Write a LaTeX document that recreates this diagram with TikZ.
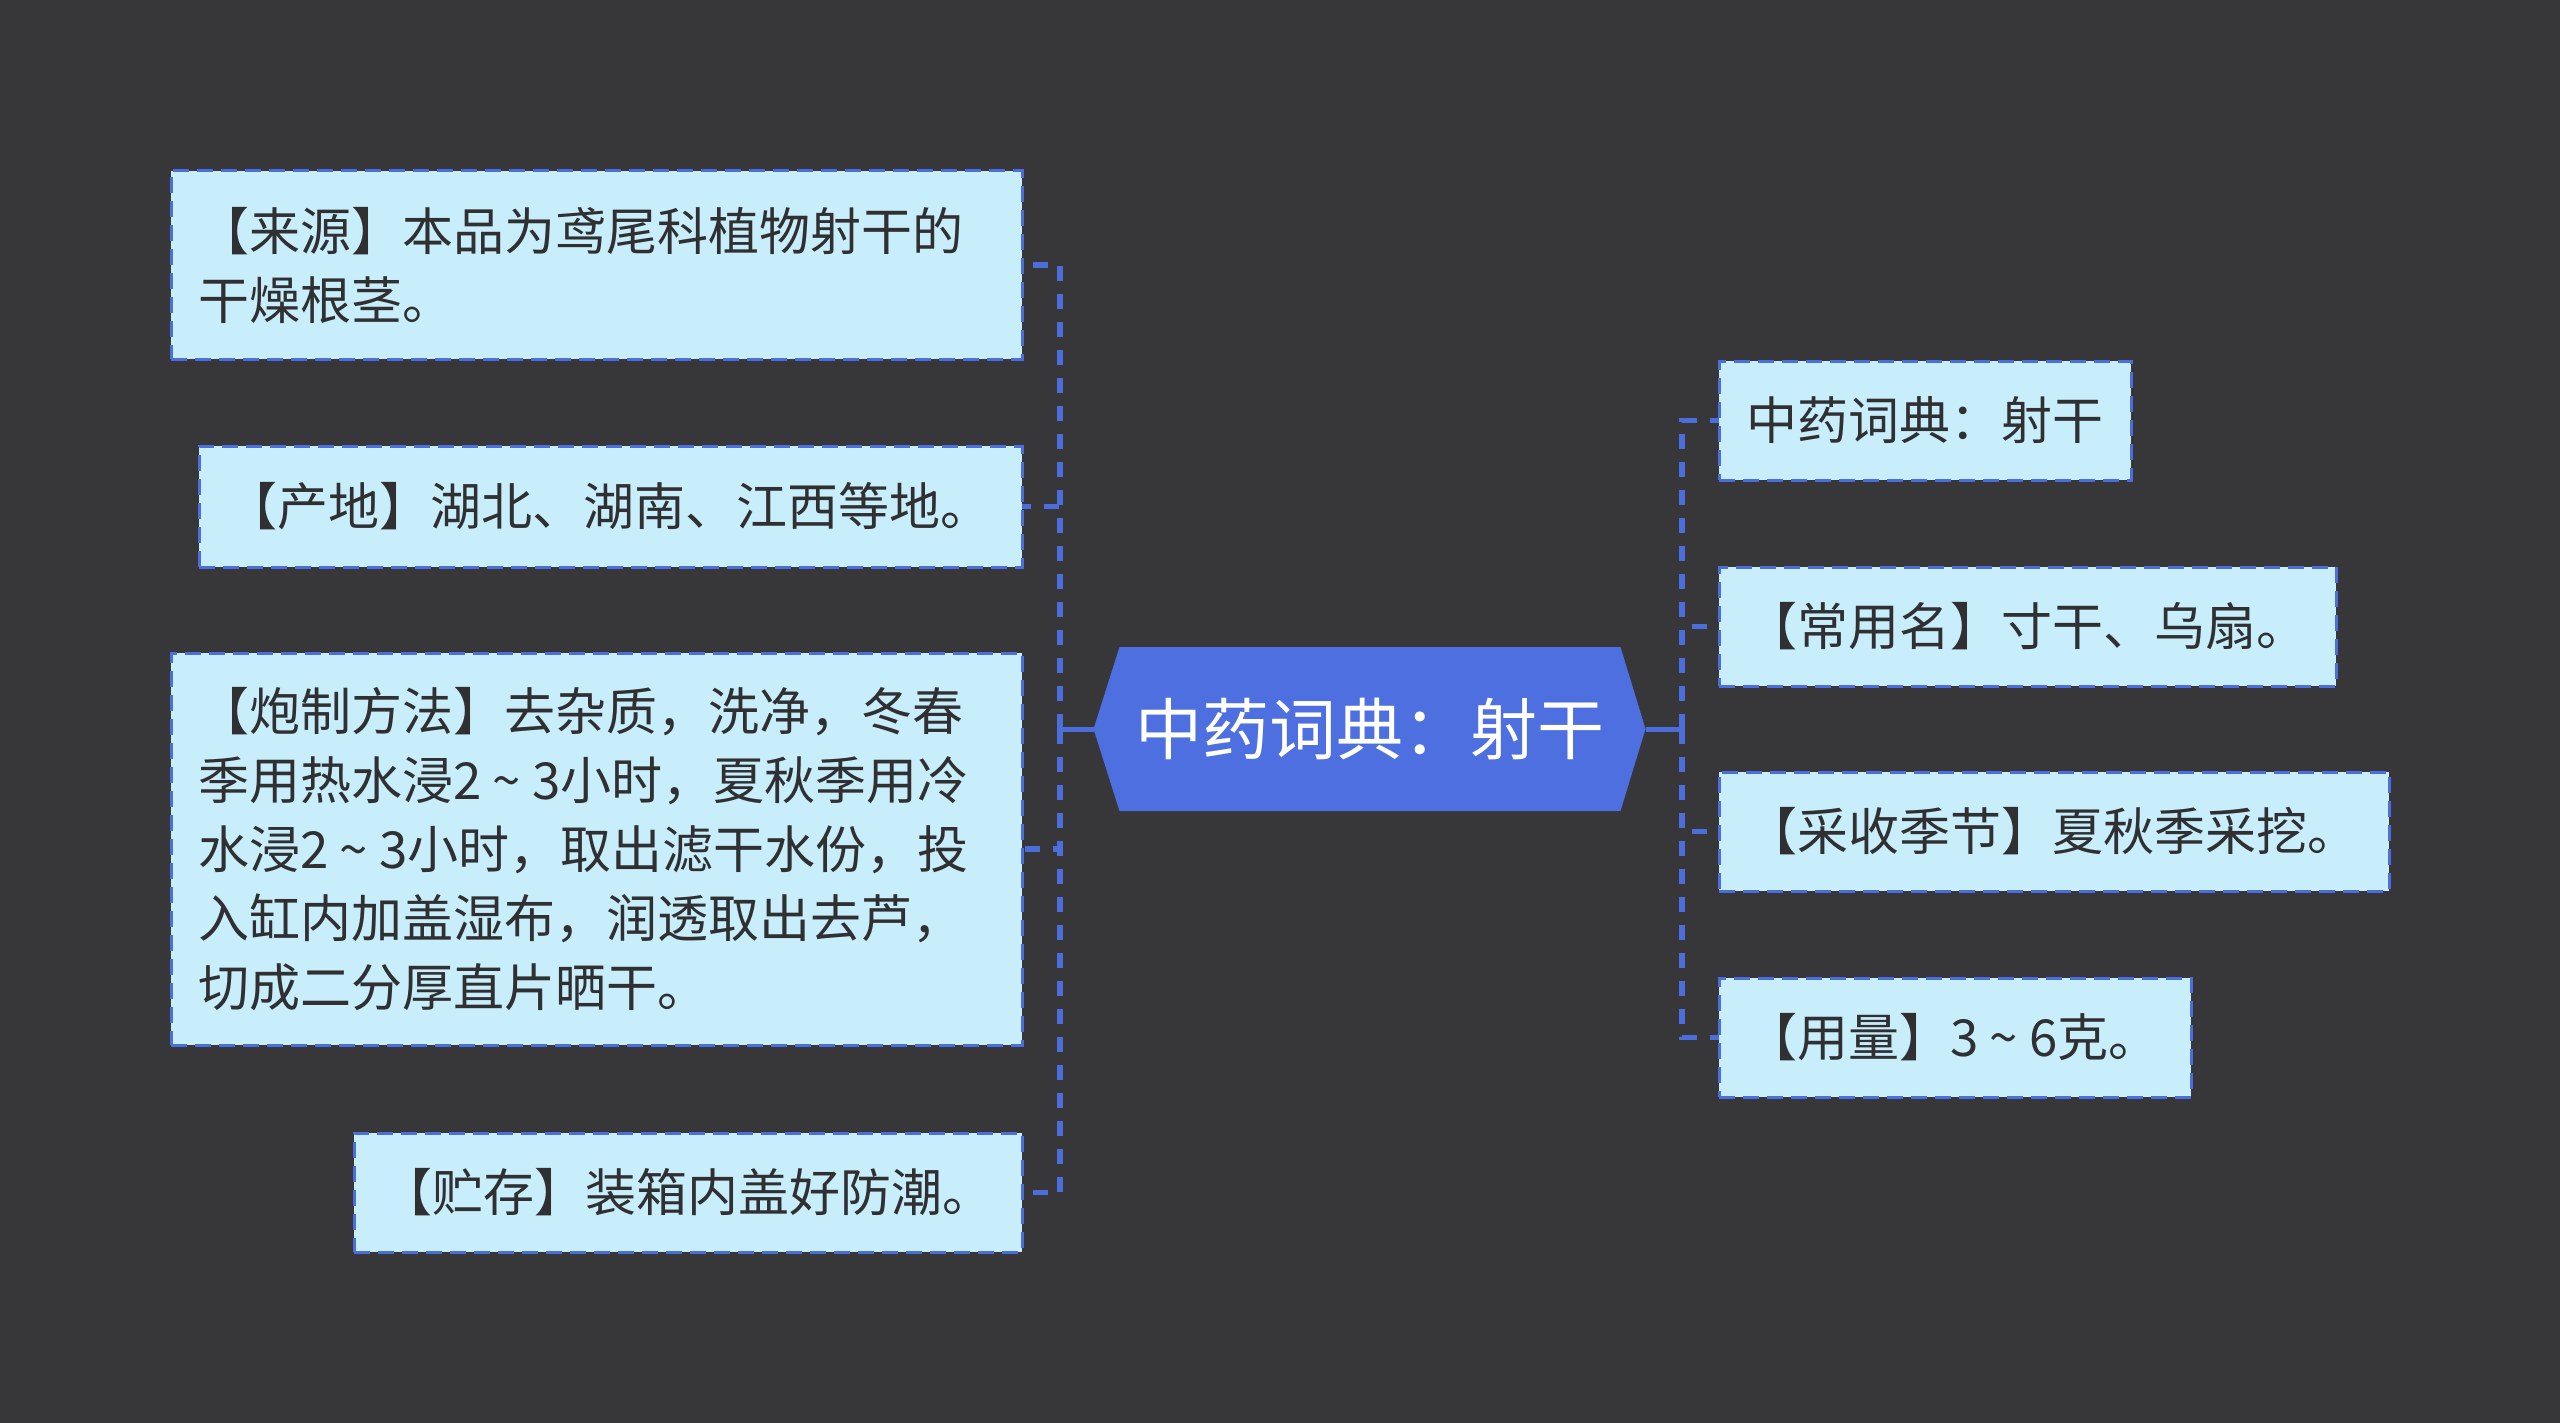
\documentclass[tikz,border=0pt]{standalone}
\usepackage{fontspec}
\newfontfamily\cjk{Noto Sans CJK SC}
\usetikzlibrary{backgrounds}
\definecolor{bgdark}{RGB}{55,54,56}
\definecolor{boxfill}{RGB}{200,238,252}
\definecolor{lineblue}{RGB}{76,110,220}
\definecolor{hexblue}{RGB}{77,111,223}
\definecolor{txtdark}{RGB}{48,48,50}
\newcommand{\wave}{\makebox[1em]{\textasciitilde}}
\begin{document}
\begin{tikzpicture}[x=1pt,y=-1pt,
  leaf/.style={draw=lineblue, fill=boxfill, line width=3pt, dash pattern=on 16pt off 8pt,
    text=txtdark, align=left, inner xsep=27pt, inner ysep=0pt, outer sep=0pt,
    font=\cjk\fontsize{51pt}{69pt}\selectfont, anchor=north west},
  conn/.style={draw=lineblue, line width=5.5pt, dash pattern=on 15pt off 13pt},
  stem/.style={draw=lineblue, line width=5pt},
  central/.style={font=\cjk\fontsize{67pt}{80pt}\selectfont, text=white,
    minimum width=501pt, minimum height=164pt, inner sep=0pt, outer sep=0pt}]
\begin{scope}[on background layer]
  \fill[bgdark] (0,0) rectangle (2560,1423);
\end{scope}
\useasboundingbox (0,0) rectangle (2560,1423);

% central topic
\node[central] (c) at (1370,729) {中药词典：射干};
\begin{scope}[on background layer]
  \fill[hexblue] (c.north west) -- (c.north east) -- ([xshift=25pt]c.east)
    -- (c.south east) -- (c.south west) -- ([xshift=-26pt]c.west) -- cycle;
\end{scope}
\coordinate (cl) at ([xshift=-26pt]c.west);
\coordinate (cr) at ([xshift=25pt]c.east);
\coordinate (jl) at (1060,729);
\coordinate (jr) at (1682,729);

% left leaves
\node[leaf, text width=797pt, minimum height=188pt] (l1) at (171,171)
  {【来源】本品为鸢尾科植物射干的\\干燥根茎。};
\node[leaf, text width=769pt, minimum height=121pt] (l2) at (199,446)
  {【产地】湖北、湖南、江西等地。};
\node[leaf, text width=797pt, minimum height=392pt] (l3) at (171,653)
  {【炮制方法】去杂质，洗净，冬春\\季用热水浸2\wave 3小时，夏秋季用冷\\水浸2\wave 3小时，取出滤干水份，投\\入缸内加盖湿布，润透取出去芦，\\切成二分厚直片晒干。};
\node[leaf, text width=614pt, minimum height=119pt] (l4) at (354,1133)
  {【贮存】装箱内盖好防潮。};

% right leaves
\node[leaf, text width=358pt, minimum height=119pt] (r1) at (1719,361)
  {中药词典：射干};
\node[leaf, text width=563pt, minimum height=119pt] (r2) at (1719,567)
  {【常用名】寸干、乌扇。};
\node[leaf, text width=616pt, minimum height=119pt] (r3) at (1719,772)
  {【采收季节】夏秋季采挖。};
\node[leaf, text width=418pt, minimum height=119pt] (r4) at (1719,978)
  {【用量】3\wave 6克。};

% connectors
\draw[stem] (cl) -- (jl);
\draw[stem] (cr) -- (jr);
\foreach \n in {l1,l2,l3,l4} \draw[conn] (jl) |- (\n.east);
\foreach \n in {r1,r2,r3,r4} \draw[conn] (jr) |- (\n.west);
\end{tikzpicture}
\end{document}
